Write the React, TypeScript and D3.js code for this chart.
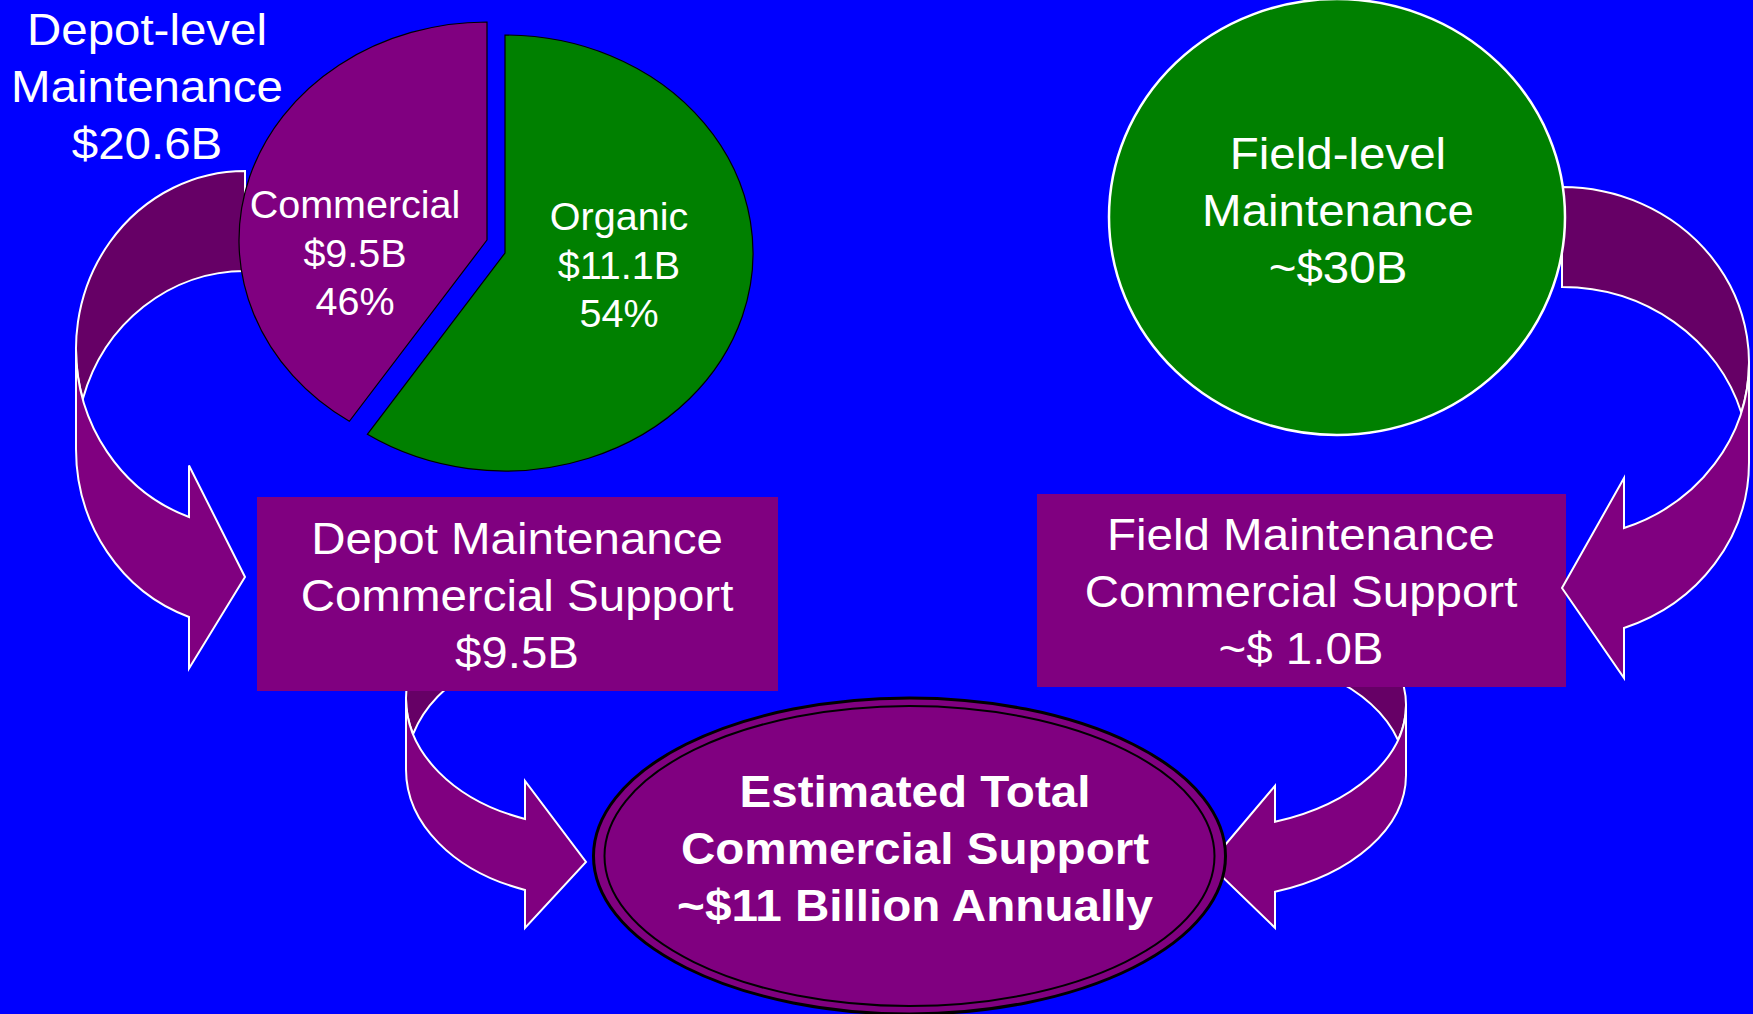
import React from "react";
import * as d3 from "d3";

// ---------- data ----------
const pieCategories = ["Organic", "Commercial"];
const pieValues = [11.1, 9.5];
const pieColors = ["#008000", "#800080"];
const depotTotalLines = ["Depot-level", "Maintenance", "$20.6B"];
const fieldTotalLines = ["Field-level", "Maintenance", "~$30B"];
const depotBoxLines = ["Depot Maintenance", "Commercial Support", "$9.5B"];
const fieldBoxLines = ["Field Maintenance", "Commercial Support", "~$ 1.0B"];
const totalLines = ["Estimated Total", "Commercial Support", "~$11 Billion Annually"];

// ---------- layout ----------
const W = 1753;
const H = 1014;
const BLUE = "#0000FF";
const PURPLE = "#800080";
const DARK = "#660066";
const GREEN = "#008000";
const FONT = "'Liberation Sans', Arial, Helvetica, sans-serif";

const pieLayout = { cx: 496, cy: 246.5, rx: 248, ry: 218, warp: 0.347 };
const pieOffsets = [
  [9, 6.5],
  [-9, -6.5],
];
const pieLabelPos = [
  [619, 230],
  [355, 218],
];

type ArrowP = { s: number; r: number; t: number; w: number; hR: number; th: number; aw: number; ah: number };
const arrows: ArrowP[] = [
  { s: 1, r: 586, t: 570.5, w: 180, hR: 128, th: 71, aw: 147, ah: 61 },
  { s: -1, r: 1209, t: 581, w: 197, hR: 124, th: 70, aw: 142, ah: 66 },
];
const upperArrows: ArrowP[] = [
  { s: 1, r: 245, t: 171, w: 169, hR: 178, th: 100, aw: 203, ah: 56 },
  { s: -1, r: 1562, t: 187, w: 187, hR: 175.5, th: 100, aw: 200, ah: 62 },
];

function arrowPaths(p: ArrowP) {
  const { s, r, t, w, hR, th, aw, ah } = p;
  const X = (dx: number) => r - s * dx;
  const sw = (f: number) => (s > 0 ? f : 1 - f);
  const cy1 = t + hR;
  const cy2 = t + hR + th;
  const dy = (Math.sqrt(w * w - ah * ah) * hR) / w;
  const y5 = cy1 + dy;
  const y7 = cy2 + dy;
  const dh = (aw - th) / 2;
  const ytip = t + 2 * hR + th / 2;
  const front = `M${X(w)},${cy1} A${w},${hR} 0 0 ${sw(0)} ${X(ah)},${y5} L${X(ah)},${y5 - dh} L${X(0)},${ytip} L${X(ah)},${y7 + dh} L${X(ah)},${y7} A${w},${hR} 0 0 ${sw(1)} ${X(w)},${cy2} Z`;
  const idx = w * Math.sqrt(1 - Math.pow(th / (2 * hR), 2));
  const back = `M${X(0)},${t} A${w},${hR} 0 0 ${sw(0)} ${X(idx)},${cy1 + th / 2} A${w},${hR} 0 0 ${sw(1)} ${X(0)},${t + th} Z`;
  return { front, back };
}

function CurvedArrow({ p }: { p: ArrowP }) {
  const { front, back } = arrowPaths(p);
  return (
    <g stroke="#FFFFFF" strokeWidth={2} strokeLinejoin="miter">
      <path d={back} fill={DARK} />
      <path d={front} fill={PURPLE} />
    </g>
  );
}

function Lines({
  lines,
  x,
  y,
  size,
  gap,
  sx,
  bold,
}: {
  lines: string[];
  x: number;
  y: number;
  size: number;
  gap: number;
  sx: number;
  bold?: boolean;
}) {
  return (
    <g>
      {lines.map((l, i) => (
        <text
          key={i}
          transform={`translate(${x},${y + i * gap}) scale(${sx},1)`}
          textAnchor="middle"
          fontFamily={FONT}
          fontSize={size}
          fontWeight={bold ? "bold" : "normal"}
          fill="#FFFFFF"
        >
          {l}
        </text>
      ))}
    </g>
  );
}

export default function App() {
  const total = d3.sum(pieValues);
  const pie = d3
    .pie<number>()
    .sort(null)
    .startAngle(0)
    .endAngle(2 * Math.PI)(pieValues);
  const warp = (a: number) => a + pieLayout.warp * Math.sin(a / 2);
  const pct = d3.format(".0%");

  const sector = (a0: number, a1: number, cx: number, cy: number) => {
    const { rx, ry } = pieLayout;
    const P = (a: number) => [cx + rx * Math.sin(a), cy - ry * Math.cos(a)];
    const [x0, y0] = P(a0);
    const [x1, y1] = P(a1);
    const large = a1 - a0 > Math.PI ? 1 : 0;
    return `M${cx},${cy} L${x0},${y0} A${rx},${ry} 0 ${large} 1 ${x1},${y1} Z`;
  };

  return (
    <svg
      width={W}
      height={H}
      viewBox={`0 0 ${W} ${H}`}
      style={{ position: "absolute", left: 0, top: 0, display: "block" }}
    >
      <rect x={0} y={0} width={W} height={H} fill={BLUE} />

      {/* lower arrows (behind boxes) */}
      {arrows.map((p, i) => (
        <CurvedArrow key={i} p={p} />
      ))}

      {/* boxes */}
      <rect x={257} y={497} width={521} height={194} fill={PURPLE} />
      <rect x={1037} y={494} width={529} height={193} fill={PURPLE} />

      {/* upper arrows */}
      {upperArrows.map((p, i) => (
        <CurvedArrow key={i} p={p} />
      ))}

      {/* pie */}
      {pie.map((d, i) => {
        const cx = pieLayout.cx + pieOffsets[i][0];
        const cy = pieLayout.cy + pieOffsets[i][1];
        return (
          <path
            key={pieCategories[i]}
            d={sector(warp(d.startAngle), warp(d.endAngle), cx, cy)}
            fill={pieColors[i]}
            stroke="#000000"
            strokeWidth={1.2}
          />
        );
      })}
      {pie.map((d, i) => (
        <Lines
          key={"lbl" + i}
          lines={[pieCategories[i], `$${d.data}B`, pct(d.data / total)]}
          x={pieLabelPos[i][0]}
          y={pieLabelPos[i][1]}
          size={38}
          gap={48.5}
          sx={1.04}
        />
      ))}

      {/* field-level circle */}
      <ellipse cx={1337} cy={217} rx={228} ry={218} fill={GREEN} stroke="#FFFFFF" strokeWidth={2.5} />

      {/* bottom ellipse */}
      <ellipse cx={909.5} cy={856} rx={316} ry={158} fill={PURPLE} stroke="#000000" strokeWidth={3} />
      <ellipse cx={909.5} cy={856} rx={305} ry={150} fill="none" stroke="#000000" strokeWidth={2} />

      {/* texts */}
      <Lines lines={depotTotalLines} x={147} y={45} size={45} gap={57} sx={1.055} />
      <Lines lines={fieldTotalLines} x={1338} y={169} size={45} gap={57} sx={1.055} />
      <Lines lines={depotBoxLines} x={517} y={554} size={45} gap={57} sx={1.055} />
      <Lines lines={fieldBoxLines} x={1301} y={550} size={45} gap={57} sx={1.055} />
      <Lines lines={totalLines} x={915} y={807} size={44.5} gap={57} sx={1.07} bold />
    </svg>
  );
}
